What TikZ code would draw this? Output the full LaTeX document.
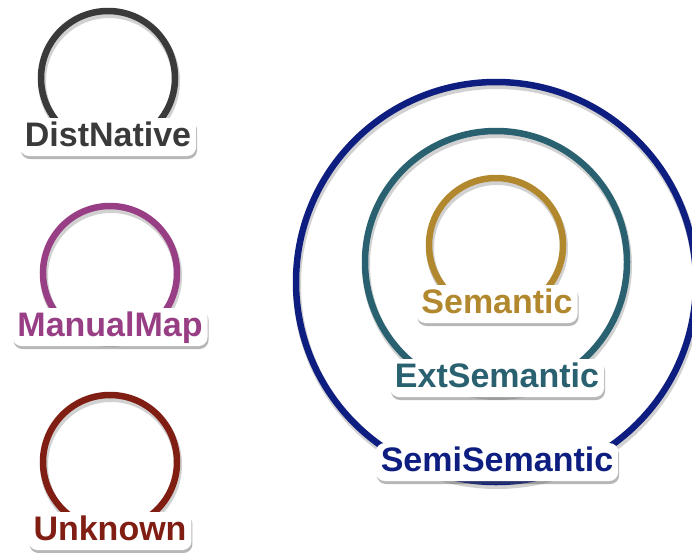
\documentclass[tikz,border=0pt]{standalone}
\usepackage{fontspec}
\setmainfont{Liberation Sans}
\usetikzlibrary{positioning}
\pgfdeclarelayer{front}
\pgfsetlayers{main,front}
\definecolor{distgrey}{RGB}{58,58,58}
\definecolor{mappurple}{RGB}{152,62,132}
\definecolor{unkred}{RGB}{128,30,20}
\definecolor{semgold}{RGB}{178,136,46}
\definecolor{extteal}{RGB}{42,97,112}
\definecolor{seminavy}{RGB}{14,30,128}
\tikzset{
    ring/.style={circle, draw=#1, line width=6.5pt, inner sep=0pt, outer sep=0pt},
    ringshade/.style={circle, draw=black!60, draw opacity=0.3, line width=8pt, inner sep=0pt},
    tag/.style={rectangle, rounded corners=9pt, font=\fontsize{34}{36}\selectfont\bfseries,
        text height=25pt, text depth=7pt, inner xsep=5pt, inner ysep=3pt, anchor=base, outer sep=0pt,
        fill=white, text=#1},
    tagshade/.style={rounded corners=9pt, fill=black!70, fill opacity=0.4}
}
\begin{document}
\begin{tikzpicture}[x=1pt, y=-1pt]
    \useasboundingbox (0,0) rectangle (692,552);
    \foreach \cx/\cy/\d in {108/78/134, 110/273/134, 110/462/134, 496/282/400, 496/262/262, 496/245/134}
        \node[ringshade, minimum size=\d pt] at (\cx+1,\cy+3) {};
    \node[ring=distgrey, minimum size=134pt] (distring) at (108,78) {};
    \node[ring=mappurple, minimum size=134pt] (mapring) at (110,273) {};
    \node[ring=unkred, minimum size=134pt] (unkring) at (110,462) {};
    \node[ring=seminavy, minimum size=400pt] (semiring) at (496,282) {};
    \node[ring=extteal, minimum size=262pt] (extring) at (496,262) {};
    \node[ring=semgold, minimum size=134pt] (semring) at (496,245) {};
    \foreach \nm/\col/\tx/\ty/\txt in {distlab/distgrey/108/146/DistNative, maplab/mappurple/110/336/ManualMap,
        unklab/unkred/110/540/Unknown, semlab/semgold/497/313/Semantic,
        extlab/extteal/497/387/ExtSemantic, semilab/seminavy/497/471/SemiSemantic} {
        \begin{pgfonlayer}{front}
            \node[tag=\col] (\nm) at (\tx,\ty) {\txt};
        \end{pgfonlayer}
        \fill[tagshade] ([shift={(1,3)}]\nm.south west) rectangle ([shift={(1,3)}]\nm.north east);
    }
\end{tikzpicture}
\end{document}
